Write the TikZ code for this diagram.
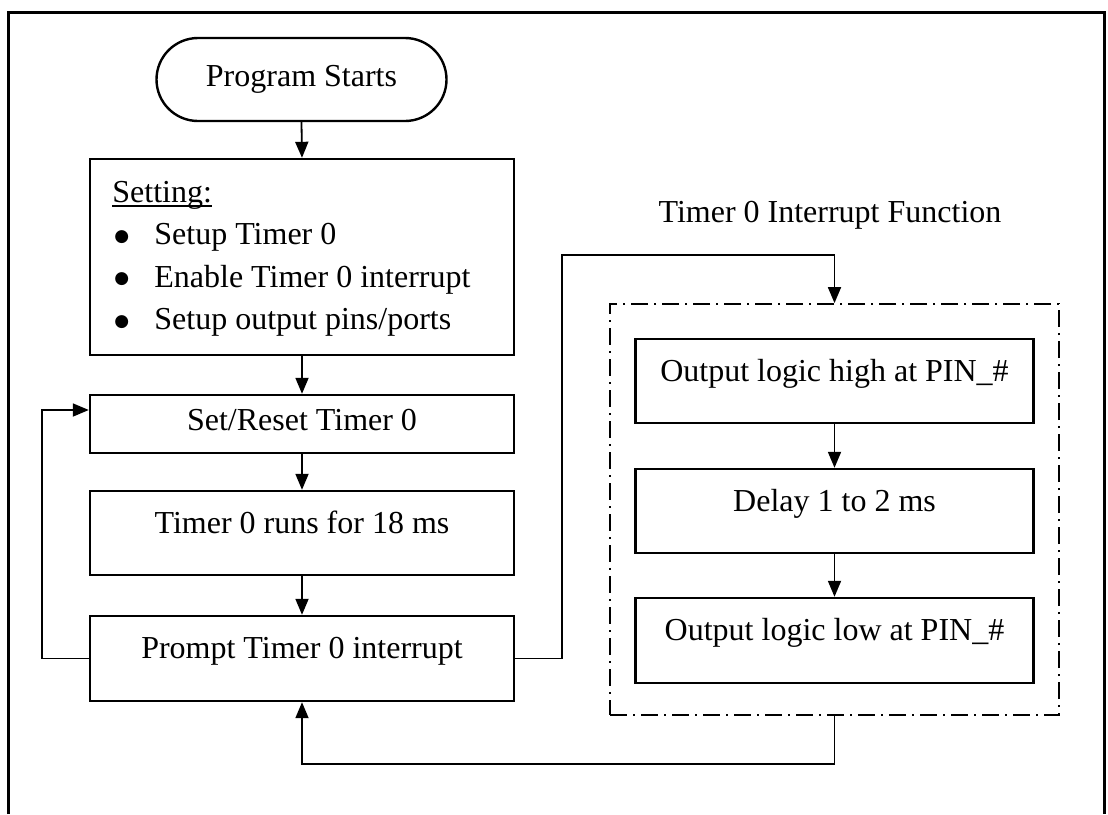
\documentclass[tikz,border=0pt]{standalone}
\usepackage{fontspec}
\setmainfont{Liberation Serif}
\newfontfamily\dejavu{DejaVu Sans}
\usetikzlibrary{arrows.meta}
\newcommand{\bigbul}{\hspace*{1pt}\makebox[20pt][l]{\raisebox{1.6pt}{\dejavu\fontsize{8.5}{8.5}\selectfont ●}}}
\begin{document}
\begin{tikzpicture}[x=0.5pt,y=-0.5pt,
  font=\fontsize{16}{19}\selectfont,
  box/.style={draw, line width=1.2pt, rectangle, minimum width=212pt, inner sep=0pt, text height=8pt, text depth=8pt},
  ibox/.style={box, minimum width=199pt},
  arr/.style={line width=0.9pt, -{Triangle[length=8pt,width=6.5pt]}},
  dashdotbox/.style={draw, line width=0.9pt, dash pattern=on 8.5pt off 3pt on 1pt off 3pt, minimum width=224.5pt, minimum height=205.5pt, inner sep=0pt}]
\useasboundingbox (0,0) rectangle (1108,814);
% outer frame
\coordinate (fa) at (8.5,814);
\coordinate (fb) at (8.5,12.5);
\coordinate (fc) at (1104.5,12.5);
\coordinate (fd) at (1104.5,814);
\draw[line width=1.1pt] (fa) -- (fb) -- (fc) -- (fd);

% left column
\node[draw, line width=1.2pt, rounded corners=20.75pt, minimum width=145pt, minimum height=41.5pt, inner sep=0pt] (start) at (301.5,79.5) {Program Starts};
\node[box, minimum height=98pt] (setting) at (302,257) {};
\node[anchor=base west, inner sep=0pt, align=left, font=\fontsize{16}{21.25}\selectfont] (settingtext) at (112,329.5)
  {{\sbox0{Setting:}\rlap{\rule[-2.4pt]{\wd0}{0.7pt}}\usebox0}\\
   \bigbul Setup Timer 0\\
   \bigbul Enable Timer 0 interrupt\\
   \bigbul Setup output pins/ports};
\node[box, minimum height=29pt, text height=11pt, text depth=5pt] (setreset) at (302,424) {Set/Reset Timer 0};
\node[box, minimum height=42pt] (runs) at (302,533) {Timer 0 runs for 18 ms};
\node[box, minimum height=42.5pt] (prompt) at (302,658.5) {Prompt Timer 0 interrupt};

% right column
\node (title) at (830,215) {Timer 0 Interrupt Function};
\node[dashdotbox] (isr) at (834.5,509.5) {};
\node[ibox, minimum height=42pt] (high) at (834.5,381) {Output logic high at PIN\_\#};
\node[ibox, minimum height=42pt] (delay) at (834.5,511) {Delay 1 to 2 ms};
\node[ibox, minimum height=42.5pt] (low) at (834.5,640.5) {Output logic low at PIN\_\#};

% connectors
\draw[arr] (start.south) -- (setting.north);
\draw[arr] (setting.south) -- (setreset.north);
\draw[arr] (setreset.south) -- (runs.north);
\draw[arr] (runs.south) -- (prompt.north);
\draw[arr] (high.south) -- (delay.north);
\draw[arr] (delay.south) -- (low.north);

\coordinate (loopx) at (42,0);
\coordinate (loopy) at (0,410);
\draw[arr] (prompt.west) -- (prompt.west -| loopx) |- (setreset.west |- loopy);

\coordinate (r1) at (562,255);
\draw[arr] (prompt.east) -| (r1) -| (isr.north);

\coordinate (b1) at (0,764);
\draw[arr] (isr.south) -- (isr.south |- b1) -| (prompt.south);
\end{tikzpicture}
\end{document}
